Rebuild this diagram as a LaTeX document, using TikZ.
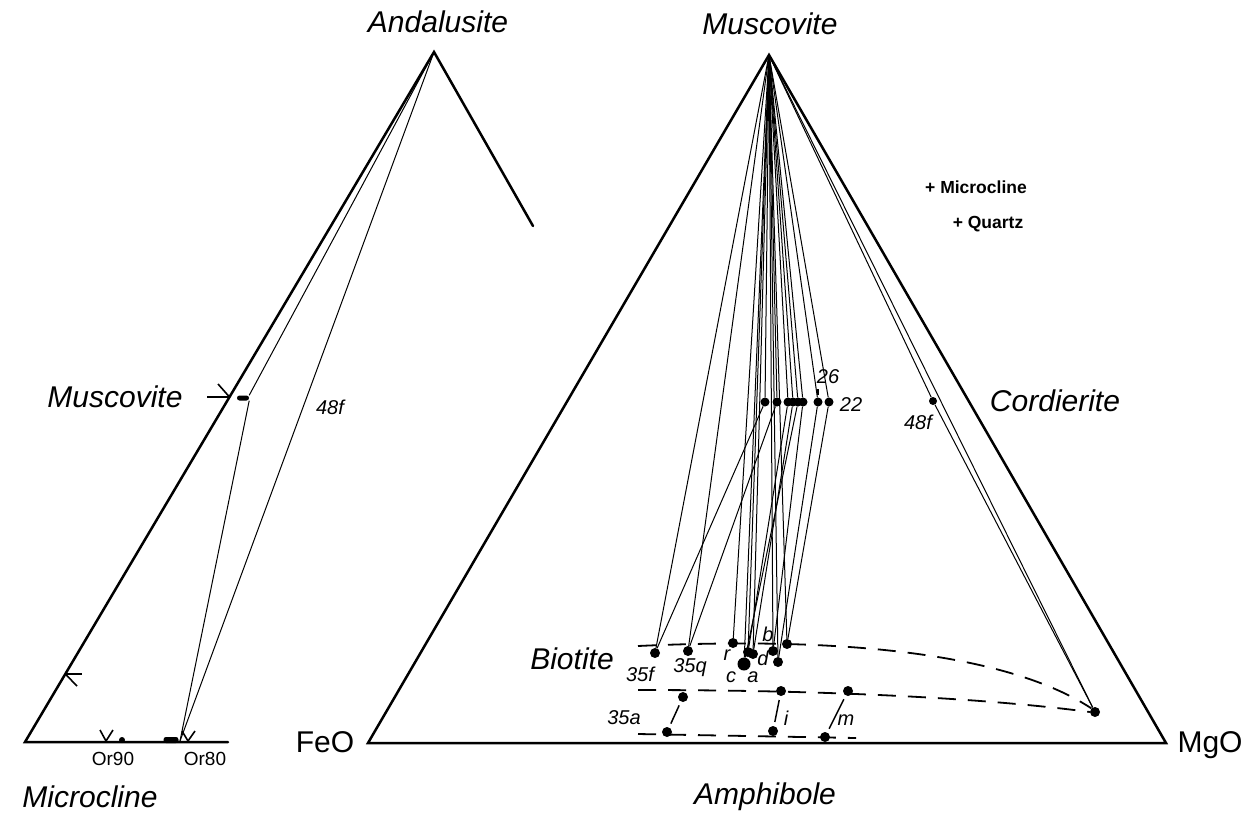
\documentclass[tikz,border=0pt]{standalone}
\usepackage{fontspec}
\setmainfont{Liberation Sans}
\newcommand\lblbig{\fontsize{30}{32}\selectfont\itshape}
\newcommand\lblup{\fontsize{30}{32}\selectfont}
\newcommand\lblsm{\fontsize{20}{22}\selectfont\itshape}
\newcommand\lblor{\fontsize{19}{21}\selectfont}
\newcommand\lblbold{\fontsize{17.5}{20}\selectfont\bfseries}
\begin{document}
\begin{tikzpicture}[x=1pt,y=-1pt,
  side/.style={line width=2.5pt, line join=miter, line cap=round},
  tie/.style={line width=1pt},
  bnd/.style={line width=1.8pt, dash pattern=on 18pt off 12pt},
  dot/.style={circle, fill=black, inner sep=0pt, minimum size=10pt},
  sdot/.style={circle, fill=black, inner sep=0pt, minimum size=6pt},
  bdot/.style={circle, fill=black, inner sep=0pt, minimum size=13pt},
  txt/.style={inner sep=0pt, anchor=center},
  tickmark/.style={line width=1.6pt}
]
\useasboundingbox (0,0) rectangle (1257,817);

% ---------- left triangle ----------
\coordinate (LA) at (434,52);
\coordinate (LB) at (25,742);
\coordinate (LBR) at (228,742);
\coordinate (LR) at (533,226);
\draw[side] (LR) -- (LA) -- (LB) -- (LBR);

\node[fill=black, rounded corners=2.5pt, inner sep=0pt, minimum width=12pt, minimum height=5pt] (LM) at (243,398) {};
\coordinate (LO) at (180,741);
\draw[tie] (LA) -- (LM.north east);
\draw[tie] (LM.south east) -- (LO);
\draw[tie] (LA) -- (LO);

\node[fill=black, rounded corners=2.5pt, inner sep=0pt, minimum width=15pt, minimum height=6pt] (Lcl) at (171,740) {};
\node[sdot] (Ld) at (122,740) {};

% tick marks
\coordinate (T1) at (229.5,397);
\draw[tickmark] (207,397) -- (T1);
\draw[tickmark] (218,384) -- (T1);
\coordinate (T2) at (65.3,674);
\draw[tickmark] (T2) -- (82,674);
\draw[tickmark] (T2) -- (77,686);
\draw[tickmark] (100,730) -- (106,741) -- (113,730);
\draw[tickmark] (182,731) -- (188,741) -- (195,731);

\node[txt, font=\lblbig] (tAnd) at (438,22) {Andalusite};
\node[txt, font=\lblbig] (tMusL) at (115,397) {Muscovite};
\node[txt, font=\lblsm] (t48L) at (330,407) {48f};
\node[txt, font=\lblor] (tOr90) at (113,759) {Or90};
\node[txt, font=\lblor] (tOr80) at (205,759) {Or80};
\node[txt, font=\lblbig] (tMic) at (90,797) {Microcline};

% ---------- right triangle ----------
\coordinate (RA) at (769,55);
\coordinate (RF) at (368,743);
\coordinate (RM) at (1166,743);
\draw[side] (RA) -- (RF) -- (RM) -- cycle;

% muscovite compositions
\foreach \n/\x in {1/765,2/777,3/788,4/793,5/798,6/803,7/818,8/829}{
  \node[dot, minimum size=9pt] (m\n) at (\x,402) {};
}
\node[sdot, minimum size=8pt] (m48) at (933,401) {};
\node[dot] (c48) at (1095,712) {};

% biotite compositions
\node[dot] (b35f) at (655,653) {};
\node[dot] (b35q) at (688,651) {};
\node[dot] (br) at (733,643) {};
\node[dot] (bd1) at (748,652) {};
\node[dot] (bd2) at (753,654) {};
\node[bdot] (bca) at (744,664) {};
\node[dot] (bb) at (773,651) {};
\node[dot] (bx) at (787,644) {};
\node[dot] (by) at (778,662) {};

% amphibole compositions
\node[dot] (a1) at (683,697) {};
\node[dot] (a2) at (667,732) {};
\node[dot] (a3) at (781,691) {};
\node[dot] (a4) at (773,731) {};
\node[dot] (a5) at (848,691) {};
\node[dot] (a6) at (825,737) {};

% tie lines from apex
\foreach \p in {m1,m2,m3,m4,m5,m6,m7,m8,b35f,b35q,br,bd1,bd2,bca,bb,bx,by,m48,c48}{
  \draw[tie] (RA) -- (\p);
}
\draw[tie] (m48) -- (c48);
% muscovite - biotite tie lines
\draw[tie] (m1) -- (b35f);
\draw[tie] (m2) -- (b35q);
\draw[tie] (m3) -- (bd1);
\draw[tie] (m4) -- (bd2);
\draw[tie] (m5) -- (bca);
\draw[tie] (m6) -- (bb);
\draw[tie] (m7) -- (by);
\draw[tie] (m8) -- (bx);
% amphibole tie lines
\draw[tie, line width=1.5pt, shorten <=4pt, shorten >=4pt] (a1) -- (a2);
\draw[tie, line width=1.5pt, shorten <=4pt, shorten >=4pt] (a3) -- (a4);
\draw[tie, line width=1.5pt, shorten <=4pt, shorten >=4pt] (a5) -- (a6);

% dashed boundaries
\coordinate (d1s) at (638,646);
\coordinate (d2s) at (638,690);
\coordinate (d3s) at (638,734);
\coordinate (d3e) at (856,738);
\draw[bnd] (d1s) .. controls (850,636) and (1010,655) .. (c48.north west);
\draw[bnd] (d2s) .. controls (850,690) and (1000,700) .. (c48.west);
\draw[bnd] (d3s) -- (d3e);

% small tick under 26
\draw[line width=1.2pt] (818,389) -- (818,395);

% labels
\node[txt, font=\lblbig] (tMusR) at (770,24) {Muscovite};
\node[txt, font=\lblbold] (tMc) at (976,187) {+ Microcline};
\node[txt, font=\lblbold] (tQz) at (988,224) {+ Quartz};
\node[txt, font=\lblbig] (tCor) at (1055,401) {Cordierite};
\node[txt, font=\lblsm] (t48R) at (918,422) {48f};
\node[txt, font=\lblsm] (t26) at (828,377) {26};
\node[txt, font=\lblsm] (t22) at (851,405) {22};
\node[txt, font=\lblbig] (tBio) at (572,659) {Biotite};
\node[txt, font=\lblsm] (t35f) at (640,674) {35f};
\node[txt, font=\lblsm] (t35q) at (690,668) {35q};
\node[txt, font=\lblsm] (tr) at (727,655) {r};
\node[txt, font=\lblsm] (tc) at (731,677) {c};
\node[txt, font=\lblsm] (ta) at (753,677) {a};
\node[txt, font=\lblsm] (td) at (763,658) {d};
\node[txt, font=\lblsm] (tb) at (768,634) {b};
\node[txt, font=\lblsm] (t35a) at (624,718) {35a};
\node[txt, font=\lblsm] (ti) at (786,718) {i};
\node[txt, font=\lblsm] (tm) at (846,720) {m};
\node[txt, font=\lblup] (tFeO) at (325,742) {FeO};
\node[txt, font=\lblup] (tMgO) at (1210,745) {MgO};
\node[txt, font=\lblbig] (tAmp) at (765,797) {Amphibole};
\end{tikzpicture}
\end{document}
